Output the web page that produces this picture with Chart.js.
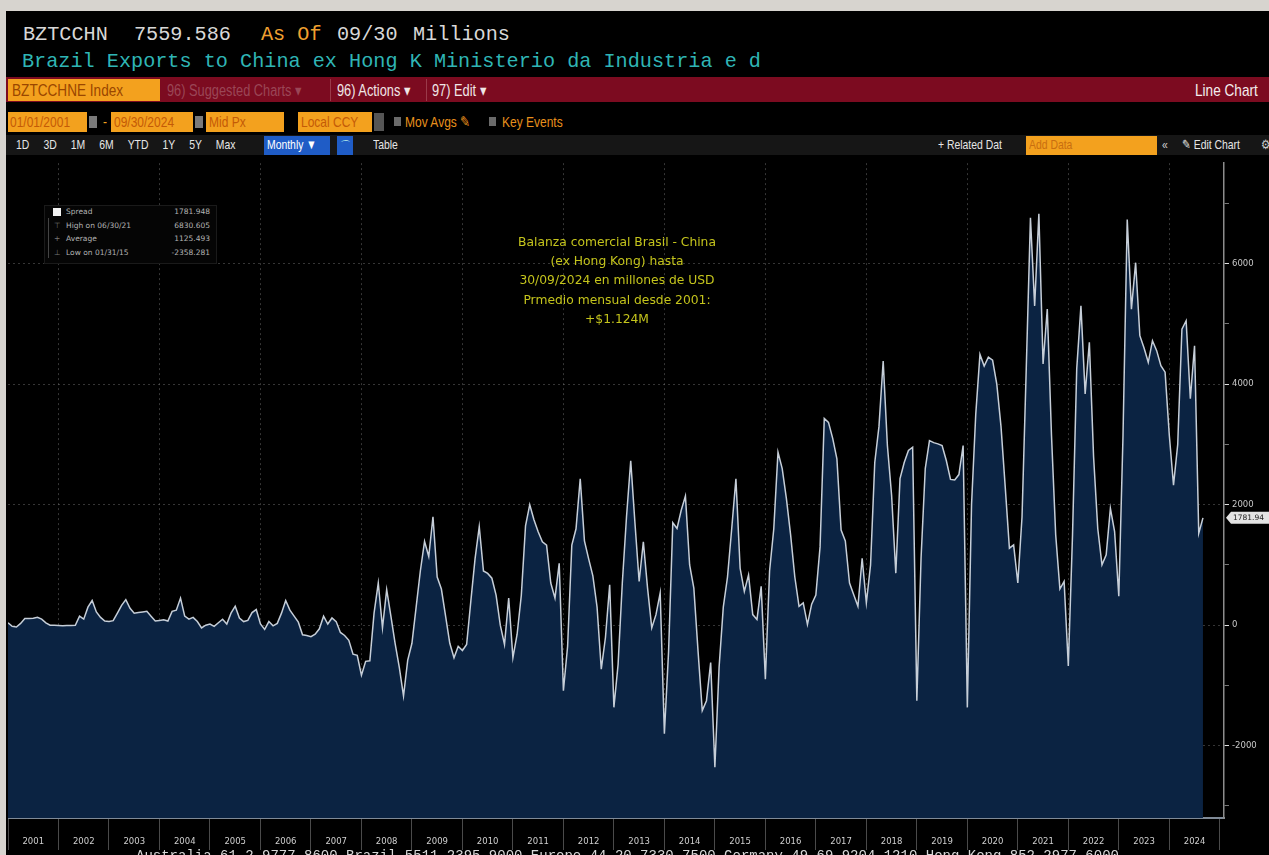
<!DOCTYPE html>
<html><head><meta charset="utf-8">
<script src="https://cdn.jsdelivr.net/npm/chart.js@4.4.1/dist/chart.umd.min.js"></script>
<style>
html,body{margin:0;padding:0;}
body{width:1269px;height:855px;background:#d7d4cf;position:relative;overflow:hidden;font-family:"Liberation Sans",Arial,sans-serif;}
.abs{position:absolute;white-space:nowrap;}
.mono{font-family:"Liberation Mono","DejaVu Sans Mono",monospace;font-size:20.2px;line-height:24px;}
.nar{font-family:"Liberation Sans",Arial,sans-serif;transform:scaleX(0.8);transform-origin:0 50%;}
.box{position:absolute;}
#chartWrap{position:absolute;left:8px;top:155px;width:1261px;height:700px;}
.lg{font-family:"DejaVu Sans",sans-serif;font-size:7.5px;color:#b4b4b4;line-height:9px;}
.ann{font-family:"DejaVu Sans",sans-serif;font-size:12.3px;color:#c4c41c;text-align:center;line-height:19.2px;}
</style>
</head><body>
<div class="box" style="left:6px;top:11px;width:1263px;height:844px;background:#000"></div>

<!-- header line 1 & 2 -->
<div class="abs mono" style="left:23px;top:23px;color:#d8d8d8">BZTCCHN</div>
<div class="abs mono" style="left:134px;top:23px;color:#d8d8d8">7559.586</div>
<div class="abs mono" style="left:261px;top:23px;color:#f0a030">As Of</div>
<div class="abs mono" style="left:337px;top:23px;color:#d8d8d8">09/30</div>
<div class="abs mono" style="left:413px;top:23px;color:#d8d8d8">Millions</div>
<div class="abs mono" style="left:22px;top:50px;color:#2fb5b5">Brazil Exports to China ex Hong K Ministerio da Industria e d</div>

<!-- red bar -->
<div class="box" style="left:6px;top:77px;width:1263px;height:25px;background:#7c0b20"></div>
<div class="box" style="left:8px;top:79px;width:152px;height:22px;background:#f3a11e"></div>
<div class="abs nar" style="left:12px;top:80px;font-size:17px;line-height:21px;color:#9a4600">BZTCCHNE Index</div>
<div class="abs nar" style="left:167px;top:80px;font-size:16px;line-height:21px;color:#9a4656">96) Suggested Charts ▾</div>
<div class="box" style="left:330px;top:79px;width:1px;height:22px;background:#9a3a4a"></div>
<div class="abs nar" style="left:337px;top:80px;font-size:16px;line-height:21px;color:#f0e6e6">96) Actions ▾</div>
<div class="box" style="left:426px;top:79px;width:1px;height:22px;background:#9a3a4a"></div>
<div class="abs nar" style="left:432px;top:80px;font-size:16px;line-height:21px;color:#f0e6e6">97) Edit ▾</div>
<div class="abs nar" style="left:1195px;top:80px;font-size:17px;line-height:21px;color:#f4eeee">Line Chart</div>

<!-- row 3 -->
<div class="box" style="left:8px;top:112px;width:79px;height:20px;background:#f3a11e"></div>
<div class="abs nar" style="left:10px;top:113px;font-size:15px;line-height:18px;color:#c45a06">01/01/2001</div>
<div class="box" style="left:89px;top:116px;width:8px;height:12px;background:#7a7a7a"></div>
<div class="abs nar" style="left:103px;top:113px;font-size:15px;line-height:18px;color:#f3a11e">-</div>
<div class="box" style="left:111px;top:112px;width:82px;height:20px;background:#f3a11e"></div>
<div class="abs nar" style="left:114px;top:113px;font-size:15px;line-height:18px;color:#c45a06">09/30/2024</div>
<div class="box" style="left:195px;top:116px;width:8px;height:12px;background:#7a7a7a"></div>
<div class="box" style="left:206px;top:112px;width:78px;height:20px;background:#f3a11e"></div>
<div class="abs nar" style="left:209px;top:113px;font-size:15px;line-height:18px;color:#c45a06">Mid Px</div>
<div class="box" style="left:298px;top:112px;width:74px;height:20px;background:#f3a11e"></div>
<div class="abs nar" style="left:301px;top:113px;font-size:15px;line-height:18px;color:#c45a06">Local CCY</div>
<div class="box" style="left:374px;top:113px;width:10px;height:18px;background:#555"></div>
<div class="box" style="left:394px;top:117px;width:7px;height:9px;background:#6a6a6a"></div>
<div class="abs nar" style="left:405px;top:113px;font-size:15px;line-height:18px;color:#e8901c">Mov Avgs ✎</div>
<div class="box" style="left:489px;top:117px;width:7px;height:9px;background:#6a6a6a"></div>
<div class="abs nar" style="left:502px;top:113px;font-size:15px;line-height:18px;color:#e8901c">Key Events</div>

<!-- row 4 -->
<div class="box" style="left:6px;top:135px;width:1263px;height:20px;background:#161616"></div>
<div class="abs nar" style="left:16px;top:137px;font-size:13px;line-height:16px;color:#e6e6e6;word-spacing:14px">1D 3D 1M 6M YTD 1Y 5Y Max</div>
<div class="box" style="left:264px;top:136px;width:66px;height:19px;background:#1f5cc6"></div>
<div class="abs nar" style="left:267px;top:137px;font-size:13px;line-height:16px;color:#fff">Monthly ▼</div>
<div class="box" style="left:337px;top:136px;width:16px;height:19px;background:#1f5cc6"></div>
<div class="abs" style="left:340px;top:137px;font-size:11px;line-height:16px;color:#cfe">⌒</div>
<div class="abs nar" style="left:373px;top:137px;font-size:13px;line-height:16px;color:#e6e6e6">Table</div>
<div class="abs nar" style="left:938px;top:137px;font-size:13px;line-height:16px;color:#e6e6e6">+ Related Dat</div>
<div class="box" style="left:1026px;top:136px;width:131px;height:19px;background:#f3a11e"></div>
<div class="abs nar" style="left:1029px;top:137px;font-size:13px;line-height:16px;color:#c86e10">Add Data</div>
<div class="abs nar" style="left:1162px;top:137px;font-size:13px;line-height:16px;color:#ccc">«</div>
<div class="abs nar" style="left:1182px;top:137px;font-size:13px;line-height:16px;color:#e6e6e6">✎ Edit Chart</div>
<div class="abs nar" style="left:1261px;top:137px;font-size:13px;line-height:16px;color:#ccc">⚙</div>

<div id="chartWrap"><canvas id="c" width="1261" height="700"></canvas></div>

<!-- legend box -->
<div class="box" style="left:44px;top:205px;width:171px;height:57px;background:#050505;border:1px solid #1a1a1a"></div>
<div class="box" style="left:48px;top:218px;width:1px;height:40px;background:#444"></div>
<div class="box" style="left:53px;top:208px;width:8px;height:8px;background:#f2f2f2"></div>
<div id="legendRows"></div>

<!-- annotation -->
<div class="abs ann" style="left:457px;top:233px;width:320px">Balanza comercial Brasil - China<br>(ex Hong Kong) hasta<br>30/09/2024 en millones de USD<br>Prmedio mensual desde 2001:<br>+$1.124M</div>

<!-- footer (cut) -->
<div class="abs" style="left:136px;top:848px;font-family:'Liberation Mono',monospace;font-size:14px;color:#d8d8d8">Australia 61 2 9777 8600 Brazil 5511 2395 9000 Europe 44 20 7330 7500 Germany 49 69 9204 1210 Hong Kong 852 2977 6000</div>

<script>
// ---- data ----
const years = ['2001','2002','2003','2004','2005','2006','2007','2008','2009','2010','2011','2012',
               '2013','2014','2015','2016','2017','2018','2019','2020','2021','2022','2023','2024'];
// Monthly Brazil-China trade spread (USD millions), Jan 2001 .. Sep 2024
const spread = [
  40, -20, -30, 30, 110, 110, 115, 130, 100, 40, 0, 0,                 // 2001
  -5, -10, -5, -5, 0, 150, 100, 300, 410, 220, 130, 70,                // 2002
  60, 75, 200, 330, 425, 280, 200, 210, 220, 230, 150, 70,             // 2003
  80, 90, 70, 230, 250, 450, 150, 100, 130, 60, -45, 0,                // 2004
  20, -20, 40, 100, 20, 200, 315, 120, 60, 80, 210, 260,               // 2005
  20, -70, 60, -10, 30, 200, 410, 250, 150, 50, -160, -170,            // 2006
  -190, -150, -60, 150, 20, 120, 60, -120, -170, -250, -480, -500,     // 2007
  -830, -600, -590, 200, 700, -45, 590, 150, -300, -700, -1175, -580,  // 2008
  -300, 300, 900, 1390, 1140, 1800, 800, 600, 150, -300, -540, -350,   // 2009
  -420, -320, 400, 1100, 1635, 900, 860, 780, 500, 0, -320, 450,       // 2010
  -540, -150, 500, 1650, 2000, 1750, 1550, 1385, 1330, 700, 450, 1028, // 2011
  -1088, -350, 1330, 1600, 2430, 1400, 1100, 820, 300, -730, -200, 670,// 2012
  -1363, -650, 700, 1800, 2730, 1700, 725, 1385, 615, -45, 175, 533,   // 2013
  -1800, -430, 1700, 1605, 1907, 2143, 1000, 615, -430, -1418, -1253, -620, // 2014
  -2358.281, -700, 300, 800, 1600, 2430, 945, 560, 835, 176, 94, 644,  // 2015
  -897, 900, 1600, 2872, 2600, 2100, 1500, 800, 314, 369, 11, 350,     // 2016
  500, 1300, 3433, 3367, 3100, 2762, 1579, 1400, 700, 506, 314, 1111,  // 2017
  369, 1000, 2700, 3300, 4385, 2982, 2157, 864, 2432, 2700, 2900, 2955,// 2018
  -1254, 1111, 2600, 3065, 3030, 3010, 2982, 2734, 2420, 2410, 2500, 2982, // 2019
  -1364, 2000, 3500, 4495, 4303, 4450, 4400, 4000, 3300, 2300, 1278, 1333, // 2020
  700, 1800, 4254, 6761, 5300, 6830.605, 4336, 5246, 3152, 1499, 600, 727, // 2021
  -678, 1499, 4254, 5300, 3840, 4695, 2800, 1600, 1003, 1168, 1940, 1554,  // 2022
  480, 3152, 6733, 5246, 6017, 4805, 4600, 4364, 4722, 4557, 4309, 4199,   // 2023
  3152, 2325, 3000, 4915, 5053, 3758, 4639, 1526, 1781.948                 // 2024 (to Sep)
];
const yTickValues = [-3000,-2000,-1000,0,1000,2000,3000,4000,5000,6000,7000];
const statsLabels = ['Spread','High on 06/30/21','Average','Low on 01/31/15'];
const statsValues = ['1781.948','6830.605','1125.493','-2358.281'];
const lastTag = '1781.94';

// category labels: monthly from Jan 2001, a few months of empty axis after Sep 2024
const labels = [];
for (let i = 0; i < 290; i++) {
  const y = 2001 + Math.floor(i / 12), m = (i % 12) + 1;
  labels.push(String(m).padStart(2,'0') + '/' + y);
}

// legend rows
(function(){
  const host = document.getElementById('legendRows');
  const tops = [207, 221, 234, 248];
  statsLabels.forEach((t, k) => {
    const a = document.createElement('div');
    a.className = 'abs lg'; a.style.left = '66px'; a.style.top = tops[k] + 'px';
    a.textContent = t; host.appendChild(a);
    const b = document.createElement('div');
    b.className = 'abs lg'; b.style.left = '140px'; b.style.width = '70px';
    b.style.textAlign = 'right'; b.style.top = tops[k] + 'px';
    b.textContent = statsValues[k]; host.appendChild(b);
  });
  const marks = ['⊤','+','⊥'];
  marks.forEach((t,k)=>{
    const a = document.createElement('div');
    a.className = 'abs lg'; a.style.left = '54px'; a.style.top = tops[k+1] + 'px';
    a.style.color = '#777'; a.textContent = t; host.appendChild(a);
  });
})();

const lastTagPlugin = {
  id: 'lastTag',
  afterDraw(chart) {
    const ys = chart.scales.y, ctx = chart.ctx;
    const v = spread[spread.length - 1];
    const y = ys.getPixelForValue(v);
    const x0 = ys.left + 2;
    ctx.save();
    ctx.fillStyle = '#e4e4e4';
    ctx.beginPath();
    ctx.moveTo(x0, y);
    ctx.lineTo(x0 + 5, y - 6);
    ctx.lineTo(x0 + 60, y - 6);
    ctx.lineTo(x0 + 60, y + 6);
    ctx.lineTo(x0 + 5, y + 6);
    ctx.closePath();
    ctx.fill();
    ctx.fillStyle = '#222';
    ctx.font = '7.5px "DejaVu Sans", sans-serif';
    ctx.textBaseline = 'middle';
    ctx.fillText(lastTag, x0 + 7, y + 0.5);
    ctx.restore();
  }
};

new Chart(document.getElementById('c'), {
  type: 'line',
  data: {
    labels: labels,
    datasets: [{
      data: spread,
      borderColor: '#c6ced8',
      borderWidth: 1.5,
      backgroundColor: '#0b2342',
      fill: 'start',
      pointRadius: 0,
      tension: 0
    }]
  },
  options: {
    responsive: false,
    animation: false,
    events: [],
    layout: { padding: { top: 5, left: 0, right: 0, bottom: 0 } },
    plugins: { legend: { display: false }, tooltip: { enabled: false } },
    scales: {
      x: {
        type: 'category',
        offset: false,
        z: 1,
        grid: {
          drawOnChartArea: true,
          color: (c) => {
            const i = c.index;
            if (i % 12 !== 0) return 'rgba(0,0,0,0)';
            const yr = 2001 + Math.floor(i / 12);
            return (yr % 2 === 0) ? 'rgba(120,120,120,0.45)' : 'rgba(0,0,0,0)';
          },
          lineWidth: 1,
          tickColor: (c) => (c.index % 12 === 0 ? '#4a4a4a' : 'rgba(0,0,0,0)'),
          tickLength: 32,
          tickWidth: 1
        },
        border: { display: true, color: '#7f8a97', width: 2, dash: [2, 3] },
        ticks: {
          autoSkip: false,
          maxRotation: 0,
          minRotation: 0,
          padding: -13,
          color: '#cfcfcf',
          font: { family: 'DejaVu Sans', size: 8.5 },
          callback: (v, i) => (i % 12 === 6 ? years[Math.floor(i / 12)] : '')
        },
        afterFit: (s) => { s.height = 37; }
      },
      y: {
        position: 'right',
        min: -3200,
        max: 7670,
        z: 1,
        afterBuildTicks: (s) => { s.ticks = yTickValues.map(v => ({ value: v })); },
        grid: {
          color: (c) => (c.tick && c.tick.value % 2000 === 0 ? 'rgba(120,120,120,0.45)' : 'rgba(0,0,0,0)'),
          lineWidth: 1,
          tickColor: (c) => (c.tick && c.tick.value % 2000 === 0 ? '#e0e0e0' : '#777'),
          tickLength: 5,
          tickWidth: 1
        },
        border: { display: true, color: '#8c8c8c', width: 1.5, dash: [2, 3] },
        ticks: {
          padding: 3,
          color: '#c8c8c8',
          font: { family: 'DejaVu Sans', size: 8.5 },
          callback: (v) => (v % 2000 === 0 ? String(v) : '')
        },
        afterFit: (s) => { s.width = 45; }
      }
    }
  },
  plugins: [lastTagPlugin]
});
</script>
</body></html>
